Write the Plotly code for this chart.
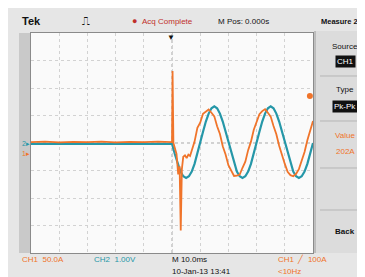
import plotly.graph_objects as go

# ---- data (time in divisions, 10 ms/div; amplitude in divisions) ----
ch2_t = [-5.0, -4.0, -3.0, -2.0, -1.0, 0.0,
         0.1, 0.2, 0.3, 0.4, 0.5, 0.6, 0.7, 0.8, 0.9, 1.0,
         1.1, 1.2, 1.3, 1.4, 1.5, 1.6, 1.7, 1.8, 1.9, 2.0,
         2.1, 2.2, 2.3, 2.4, 2.5, 2.6, 2.7, 2.8, 2.9, 3.0,
         3.1, 3.2, 3.3, 3.4, 3.5, 3.6, 3.7, 3.8, 3.9, 4.0,
         4.1, 4.2, 4.3, 4.4, 4.5, 4.6, 4.7, 4.8, 4.9, 5.0]
ch2_v = [-0.03, -0.03, -0.03, -0.03, -0.03, -0.03,
         -0.40, -0.76, -1.04, -1.21, -1.27, -1.21, -1.04, -0.76, -0.40, 0.00,
         0.41, 0.78, 1.07, 1.26, 1.33, 1.26, 1.07, 0.78, 0.41, 0.00,
         -0.40, -0.76, -1.04, -1.21, -1.27, -1.21, -1.04, -0.76, -0.40, 0.00,
         0.41, 0.78, 1.07, 1.26, 1.33, 1.26, 1.07, 0.78, 0.41, 0.00,
         -0.40, -0.76, -1.04, -1.21, -1.27, -1.21, -1.04, -0.76, -0.40, 0.00]

ch1_t = [-5.0, -4.5, -4.0, -3.5, -3.0, -2.5, -2.0, -1.5, -1.0, -0.5, 0.0,
         0.02, 0.05, 0.1, 0.16, 0.22, 0.27, 0.31, 0.35, 0.40, 0.46, 0.52, 0.58, 0.64, 0.7,
         0.8, 0.9, 1.0, 1.1, 1.2, 1.3, 1.4, 1.5, 1.6, 1.7, 1.8, 1.9, 2.0,
         2.1, 2.2, 2.3, 2.4, 2.5, 2.6, 2.7, 2.8, 2.9, 3.0,
         3.1, 3.2, 3.3, 3.4, 3.5, 3.6, 3.7, 3.8, 3.9, 4.0,
         4.1, 4.2, 4.3, 4.4, 4.5, 4.6, 4.7, 4.8, 4.9, 5.0]
ch1_v = [0.03, 0.05, 0.02, 0.04, 0.03, 0.05, 0.02, 0.04, 0.03, 0.05, 0.03,
         2.62, 0.00, -0.15, -0.40, -1.14, -0.85, -3.18, -0.95, -0.50, -0.45, -0.55, -0.42, -0.47, -0.28,
         0.05, 0.55, 0.74, 1.06, 1.15, 1.22, 1.10, 0.97, 0.61, 0.33, -0.12, -0.42, -0.81,
         -1.00, -1.20, -1.19, -1.15, -0.90, -0.68, -0.26, 0.05, 0.48, 0.75,
         1.05, 1.16, 1.23, 1.10, 0.96, 0.62, 0.32, -0.10, -0.47, -0.76,
         -1.05, -1.17, -1.21, -1.12, -0.95, -0.63, -0.33, 0.10, 0.43, 0.80]

marker_t = [4.89]
marker_v = [1.71]

ORANGE = "#f0742a"
TEAL = "#2597a8"

# ---- layout geometry (pixels) ----
FW, FH = 365, 277
L, R, T, B = 23, 305, 25, 245
W, H = R - L, B - T


def fx(px):
    return (px - L) / W


def fy(py):
    return (B - py) / H


fig = go.Figure()
fig.add_trace(go.Scatter(x=ch2_t, y=ch2_v, mode="lines",
                         line=dict(color=TEAL, width=2.2), hoverinfo="skip"))
fig.add_trace(go.Scatter(x=ch1_t, y=ch1_v, mode="lines",
                         line=dict(color=ORANGE, width=1.8), hoverinfo="skip"))
fig.add_trace(go.Scatter(x=marker_t, y=marker_v, mode="markers",
                         marker=dict(color=ORANGE, size=6), hoverinfo="skip"))

FONT = "Liberation Sans"
shapes = []
# left gray strip
shapes.append(dict(type="rect", xref="paper", yref="paper",
                   x0=fx(11), x1=fx(22), y0=fy(T), y1=fy(B),
                   fillcolor="#c9c9c9", line=dict(width=0), layer="below"))
# right menu panel
shapes.append(dict(type="rect", xref="paper", yref="paper",
                   x0=fx(307), x1=fx(365), y0=fy(T - 2), y1=fy(B),
                   fillcolor="#dcdcdc", line=dict(width=0), layer="below"))
shapes.append(dict(type="line", xref="paper", yref="paper",
                   x0=fx(307), x1=fx(307), y0=fy(T - 2), y1=fy(B),
                   line=dict(color="#9a9a9a", width=1)))
for sy in [68, 113, 160, 202]:
    shapes.append(dict(type="line", xref="paper", yref="paper",
                       x0=fx(312), x1=fx(362), y0=fy(sy), y1=fy(sy),
                       line=dict(color="#b5b5b5", width=1)))
# center dotted axes
shapes.append(dict(type="line", xref="x", yref="y", x0=-5, x1=5, y0=0, y1=0,
                   line=dict(color="#a8a8a8", width=1, dash="dot"), layer="below"))
shapes.append(dict(type="line", xref="x", yref="y", x0=0, x1=0, y0=-4, y1=4,
                   line=dict(color="#a8a8a8", width=1, dash="dot"), layer="below"))

ann = []


def text(px, py, s, color="#111", size=8, anchor="left", bold=False, bg=None):
    d = dict(xref="paper", yref="paper", x=fx(px), y=fy(py), text=("<b>%s</b>" % s) if bold else s,
             showarrow=False, xanchor=anchor, yanchor="middle",
             font=dict(family=FONT, size=size, color=color))
    if bg:
        d["bgcolor"] = bg
        d["borderpad"] = 1
    ann.append(d)


# top bar
text(12, 13, "Tek", size=11, bold=True)
text(72, 13, "⎍", size=11)
text(122, 13, "●", color="#c0302a", size=9)
text(132, 13, "Acq Complete", color="#c0302a", size=8)
text(208, 13, "M Pos: 0.000s", size=8)
text(311, 13, "Measure 2", size=7.5, bold=True)
# trigger position marker
text(163, 30, "▼", size=8, anchor="center")
# right menu
text(337, 38, "Source", size=8, anchor="center")
text(337, 53, "CH1", color="#ffffff", size=8, anchor="center", bg="#111111")
text(337, 82, "Type", size=8, anchor="center")
text(337, 98, "Pk-Pk", color="#ffffff", size=8, anchor="center", bg="#111111")
text(337, 128, "Value", color=ORANGE, size=8, anchor="center")
text(337, 143, "202A", color=ORANGE, size=8, anchor="center")
text(337, 223, "Back", size=8, anchor="center", bold=True)
# ground markers
text(12, 135, "2▸", color=TEAL, size=7)
text(12, 145, "1▸", color=ORANGE, size=7)
# bottom readouts
text(12, 251, "CH1  50.0A", color=ORANGE, size=8)
text(84, 251, "CH2  1.00V", color=TEAL, size=8)
text(162, 251, "M 10.0ms", size=8)
text(162, 263, "10-Jan-13 13:41", size=8)
text(268, 251, "CH1  ╱  100A", color=ORANGE, size=8)
text(268, 263, "<10Hz", color=ORANGE, size=8)

fig.update_layout(
    width=FW, height=FH,
    margin=dict(l=L, r=FW - R, t=T, b=FH - B, pad=0),
    paper_bgcolor="#e6e6e6", plot_bgcolor="#fafafa",
    showlegend=False, shapes=shapes, annotations=ann,
    xaxis=dict(range=[-5, 5], dtick=1, tick0=0, showticklabels=False, ticks="",
               showgrid=True, gridcolor="#d2d2d2", griddash="dot", gridwidth=1,
               zeroline=False, showline=True, linecolor="#8a8a8a", linewidth=1, mirror=True,
               fixedrange=True),
    yaxis=dict(range=[-4, 4], dtick=1, tick0=0, showticklabels=False, ticks="",
               showgrid=True, gridcolor="#d2d2d2", griddash="dot", gridwidth=1,
               zeroline=False, showline=True, linecolor="#8a8a8a", linewidth=1, mirror=True,
               fixedrange=True),
)

fig.write_html("out.html", config={"displayModeBar": False})
